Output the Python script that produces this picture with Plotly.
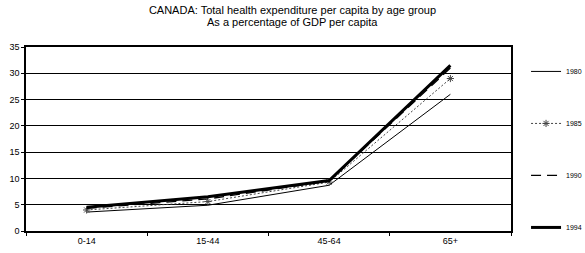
import plotly.graph_objects as go

age_groups = ["0-14", "15-44", "45-64", "65+"]
years = ["1980", "1985", "1990", "1994"]
v1980 = [3.6, 4.9, 8.7, 26.0]
v1985 = [4.0, 5.6, 9.3, 29.0]
v1990 = [4.3, 6.1, 9.5, 31.0]
v1994 = [4.5, 6.5, 9.6, 31.5]

title_line1 = "CANADA: Total health expenditure per capita by age group"
title_line2 = "As a percentage of GDP per capita"

series = [v1980, v1985, v1990, v1994]
styles = [
    dict(line=dict(color="black", width=1, dash="solid"), mode="lines"),
    dict(line=dict(color="#444444", width=1, dash="2px,2px"), mode="lines+markers",
         marker=dict(symbol="asterisk-open", size=6, line=dict(color="black", width=1))),
    dict(line=dict(color="black", width=1.3, dash="10px,6px"), mode="lines"),
    dict(line=dict(color="black", width=3, dash="solid"), mode="lines"),
]

fig = go.Figure()
for name, vals, st in zip(years, series, styles):
    fig.add_trace(go.Scatter(x=age_groups, y=vals, name=name, legendgroup=name, **st))

fig.update_layout(
    width=585, height=253,
    margin=dict(l=26, r=74, t=47, b=22, autoexpand=False),
    paper_bgcolor="white", plot_bgcolor="white",
    font=dict(family="Liberation Sans, Arial, sans-serif", size=9, color="black"),
    title=dict(text=title_line1, x=0.5, xanchor="center", xref="container",
               y=1 - 10.5 / 253, yanchor="middle", yref="container",
               font=dict(size=11, color="black")),
    annotations=[dict(text=title_line2, x=(292.5 - 26) / 485, xref="paper", xanchor="center",
                      y=(231 - 22) / 184, yref="paper", yanchor="middle", showarrow=False,
                      font=dict(size=11, color="black"))],
    showlegend=True,
    legend=dict(x=1.031, xanchor="left", y=0.946, yanchor="top", maxheight=240,
                font=dict(size=7, color="black"), tracegroupgap=33, itemwidth=30,
                bgcolor="rgba(0,0,0,0)"),
    xaxis=dict(type="category", range=[-0.5, 3.5], tickson="boundaries",
               ticks="outside", ticklen=3, tickcolor="black", automargin=False,
               showline=True, linecolor="black", linewidth=1.5, mirror=True,
               showgrid=False, tickfont=dict(size=9)),
    yaxis=dict(range=[0, 35], dtick=5, ticks="outside", ticklen=3, tickcolor="black", automargin=False,
               showline=True, linecolor="black", linewidth=1.5, mirror=True,
               showgrid=True, gridcolor="black", gridwidth=1, zeroline=False,
               tickfont=dict(size=9)),
)

fig.write_html("out.html", config={"displayModeBar": False},
               post_script="document.body.style.margin='0';")
